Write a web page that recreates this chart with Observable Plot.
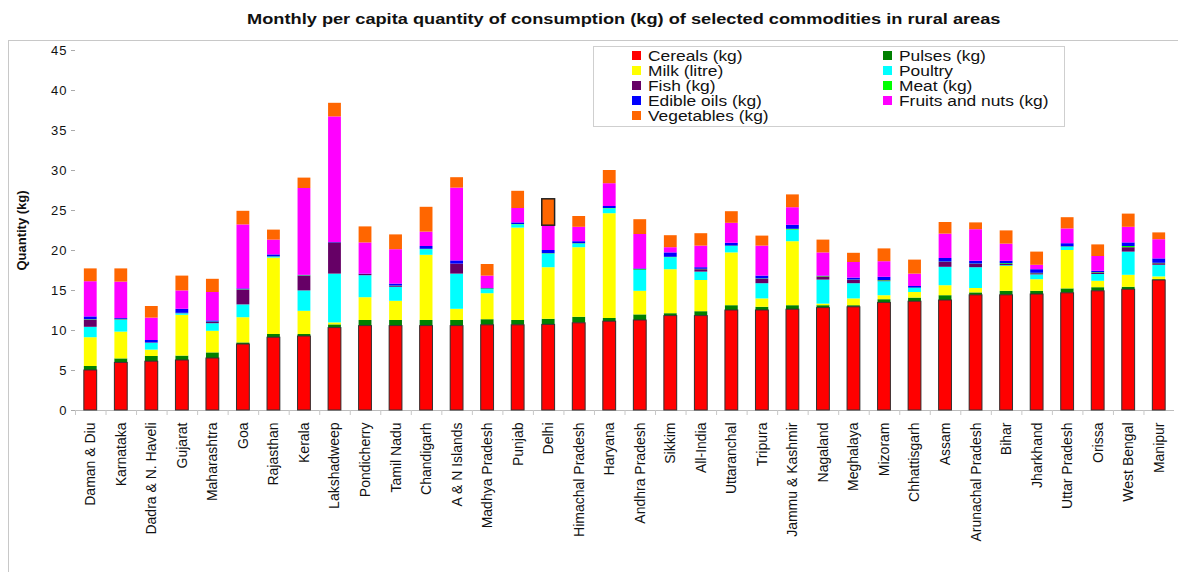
<!DOCTYPE html>
<html>
<head>
<meta charset="utf-8">
<script src="https://cdn.jsdelivr.net/npm/d3@7"></script>
<script src="https://cdn.jsdelivr.net/npm/@observablehq/plot@0.6"></script>
<style>
  html, body { margin: 0; padding: 0; background: #fff; }
  #wrap { position: relative; width: 1178px; height: 572px; overflow: hidden; font-family: "Liberation Sans", Arial, sans-serif; }
  #frame { position: absolute; left: 8px; top: 40px; width: 1200px; height: 600px; border-top: 1px solid #c8c8c8; border-left: 1px solid #c8c8c8; }
  #title { position: absolute; left: 0; top: 11px; width: 1178px; padding-left: 70px; box-sizing: border-box; text-align: center; font-weight: bold; font-size: 14px; color: #111; line-height: 17px; }
  #title span { display: inline-block; transform: scaleX(1.3); transform-origin: center; }
  #chart { position: absolute; left: 0; top: 40px; }
  #legend { position: absolute; left: 593px; top: 46px; width: 472px; height: 81px; border: 1px solid #cfcfcf; box-sizing: border-box; background: #fff;
            display: grid; grid-template-columns: 251px 200px; grid-auto-rows: 15px; padding-left: 38px; padding-top: 1px; }
  .item { display: flex; align-items: center; font-size: 14px; color: #111; white-space: nowrap; }
  .item span.t { display: inline-block; transform: scaleX(1.24); transform-origin: left center; }
  .sw { width: 9px; height: 9px; margin-right: 7px; flex: none; }
  g[aria-label="y-axis tick label"] text { letter-spacing: 1px; }
</style>
</head>
<body>
<div id="wrap">
  <div id="frame"></div>
  <div id="title"><span></span></div>
  <div id="chart"></div>
  <div id="legend"></div>
</div>
<script>
const titleText = "Monthly per capita quantity of consumption (kg) of selected commodities in rural areas";
const yLabel = "Quantity (kg)";

const categories = ["Daman & Diu","Karnataka","Dadra & N. Haveli","Gujarat","Maharashtra","Goa","Rajasthan","Kerala","Lakshadweep","Pondicherry","Tamil Nadu","Chandigarh","A & N Islands","Madhya Pradesh","Punjab","Delhi","Himachal Pradesh","Haryana","Andhra Pradesh","Sikkim","All-India","Uttaranchal","Tripura","Jammu & Kashmir","Nagaland","Meghalaya","Mizoram","Chhattisgarh","Assam","Arunachal Pradesh","Bihar","Jharkhand","Uttar Pradesh","Orissa","West Bengal","Manipur"];

const seriesNames = ["Cereals (kg)","Pulses (kg)","Milk (litre)","Poultry","Fish (kg)","Meat (kg)","Edible oils (kg)","Fruits and nuts (kg)","Vegetables (kg)"];
const seriesColors = ["#ff0000","#008000","#ffff00","#00ffff","#660066","#00ff00","#0000ff","#ff00ff","#ff6600"];

const cereals    = [5.0,5.95,6.1,6.25,6.5,8.25,9.1,9.25,10.3,10.55,10.55,10.55,10.55,10.65,10.65,10.7,10.9,11.1,11.25,11.8,11.8,12.5,12.5,12.6,12.8,12.9,13.45,13.6,13.75,14.4,14.4,14.5,14.65,14.9,15.1,16.25];
const pulses     = [0.5,0.5,0.65,0.55,0.7,0.2,0.4,0.25,0.4,0.7,0.7,0.7,0.7,0.7,0.6,0.7,0.75,0.4,0.7,0.3,0.55,0.6,0.4,0.5,0.3,0.2,0.4,0.45,0.6,0.3,0.5,0.4,0.55,0.45,0.3,0.1];
const milk       = [3.6,3.35,0.8,5.1,2.7,3.15,9.55,2.9,0.25,2.85,2.4,8.15,1.4,3.25,11.55,6.45,8.7,13.1,2.95,5.5,3.9,6.6,1.05,8.0,0.2,0.85,0.5,0.7,1.25,0.55,3.1,1.45,4.8,0.8,1.5,0.35];
const poultry    = [1.3,1.5,0.85,0.2,0.95,1.6,0.1,2.55,6.1,2.75,1.75,0.7,4.4,0.5,0.4,1.7,0.45,0.6,2.6,1.5,1.05,0.8,1.9,1.45,3.0,1.9,1.75,0.5,2.3,2.6,0.1,0.6,0.4,0.85,2.9,1.45];
const fish       = [0.9,0.05,0.05,0.05,0.15,1.85,0.0,1.85,3.9,0.15,0.1,0.0,1.25,0.0,0.0,0.0,0.0,0.0,0.0,0.0,0.3,0.0,0.55,0.0,0.4,0.4,0.1,0.0,0.6,0.4,0.15,0.15,0.0,0.2,0.55,0.2];
const meat       = [0.05,0.05,0.0,0.0,0.05,0.05,0.05,0.05,0.0,0.0,0.05,0.05,0.0,0.1,0.05,0.05,0.05,0.05,0.1,0.05,0.05,0.05,0.05,0.1,0.05,0.05,0.05,0.05,0.05,0.05,0.1,0.05,0.05,0.05,0.15,0.05];
const oils       = [0.35,0.1,0.3,0.5,0.15,0.1,0.25,0.05,0.05,0.05,0.25,0.35,0.4,0.05,0.2,0.4,0.25,0.25,0.1,0.55,0.2,0.35,0.35,0.5,0.05,0.25,0.4,0.2,0.45,0.35,0.3,0.45,0.4,0.15,0.45,0.55];
const fruits     = [4.4,4.55,2.8,2.3,3.55,8.0,1.85,10.85,15.7,3.9,4.3,1.8,9.1,1.55,1.8,3.1,1.8,2.85,4.3,0.65,2.7,2.5,3.75,2.2,2.9,1.95,1.95,1.55,3.05,3.95,2.15,0.55,1.85,1.85,1.95,2.4];
const vegetables = [1.6,1.65,1.45,1.85,1.65,1.7,1.25,1.3,1.7,2.0,1.85,3.1,1.3,1.45,2.15,3.3,1.35,1.65,1.85,1.5,1.55,1.45,1.25,1.6,1.6,1.15,1.6,1.75,1.45,0.85,1.65,1.65,1.4,1.45,1.65,0.85];
const seriesValues = [cereals, pulses, milk, poultry, fish, meat, oils, fruits, vegetables];

const yTicks = [0,5,10,15,20,25,30,35,40,45];
const highlightCategory = "Delhi";
const highlightSeries = "Vegetables (kg)";

const data = categories.flatMap((c, i) => seriesNames.map((s, j) => ({category: c, series: s, value: seriesValues[j][i]})));

const W = 1178, H = 532, ML = 75, MR = 4;
const step = (W - ML - MR) / categories.length;
const pad = 0.58;
// band range so that bands are laid edge to edge from ML with step `step`
const x0 = ML + step * 0.5 - step * (1 + pad) / 2;
const x1 = x0 + step * (categories.length + pad);

document.querySelector("#title span").textContent = titleText;

const chart = Plot.plot({
  width: W, height: H,
  marginTop: 10, marginBottom: 162, marginLeft: ML, marginRight: MR,
  style: {fontFamily: '"Liberation Sans", Arial, sans-serif', background: "transparent", overflow: "visible"},
  x: {domain: categories, padding: pad, range: [x0, x1], round: false, axis: null, label: null},
  y: {domain: [0, 45], axis: null},
  color: {domain: seriesNames, range: seriesColors},
  marks: [
    Plot.ruleY([0], {stroke: "#bdbdbd", strokeWidth: 1}),
    Plot.axisX({tickSize: 5, dx: -step / 2, tickFormat: () => "", stroke: "#c8c8c8", label: null}),
    Plot.axisX({tickSize: 0, tickPadding: 12, tickRotate: -90, fontSize: 14, fill: "#111", label: null}),
    Plot.axisY({ticks: yTicks, tickSize: 4, tickPadding: 4, stroke: "#aaa", fill: "#111", fontSize: 13, label: null}),
    Plot.text([yLabel], {frameAnchor: "left", rotate: -90, dx: -54, fontSize: 13, fontWeight: "bold", fill: "#111", textAnchor: "middle", lineAnchor: "middle"}),
    Plot.barY(data, {x: "category", y: "value", fill: "series", z: "series", order: seriesNames}),
    Plot.barY(data.filter(d => d.series === seriesNames[0]), {x: "category", y: "value", fill: "series", stroke: "#333", strokeWidth: 1}),
    Plot.barY(data, Plot.filter(d => d.category === highlightCategory && d.series === highlightSeries,
      Plot.stackY({x: "category", y: "value", z: "series", order: seriesNames, fill: "none", stroke: "#222", strokeWidth: 1.5})))
  ]
});
document.getElementById("chart").appendChild(chart);

const legend = document.getElementById("legend");
seriesNames.forEach((s, i) => {
  const item = document.createElement("div");
  item.className = "item";
  const sw = document.createElement("span");
  sw.className = "sw";
  sw.style.background = seriesColors[i];
  item.appendChild(sw);
  const t = document.createElement("span");
  t.className = "t";
  t.textContent = s;
  item.appendChild(t);
  legend.appendChild(item);
});
</script>
</body>
</html>
